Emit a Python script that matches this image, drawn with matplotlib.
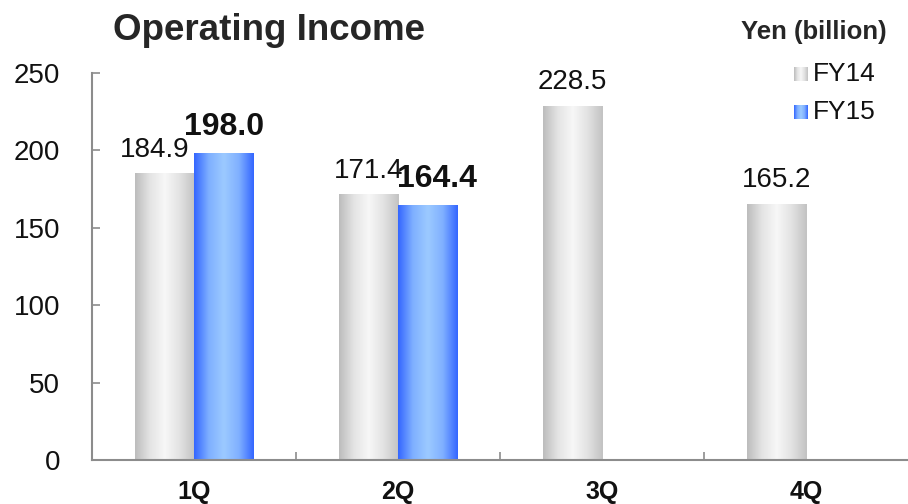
import matplotlib
matplotlib.use("Agg")
import matplotlib.pyplot as plt
import numpy as np
from matplotlib.colors import LinearSegmentedColormap

quarters = ["1Q", "2Q", "3Q", "4Q"]
fy14 = [184.9, 171.4, 228.5, 165.2]
fy15 = [198.0, 164.4, None, None]

plt.rcParams["font.family"] = ["Liberation Sans", "DejaVu Sans"]

GRAY = LinearSegmentedColormap.from_list(
    "g", ["#bcbcbc", "#e4e4e4", "#f7f7f7", "#e2e2e2", "#c2c2c2"])
BLUE = LinearSegmentedColormap.from_list(
    "b", ["#3366ff", "#7fb0ff", "#9ccaff", "#80b0ff", "#3366ff"])
SPINE = "#8c8c8c"
INK = "#111111"

fig = plt.figure(figsize=(9.08, 5.04), dpi=100)
ax = fig.add_axes([0.1013, 0.0873, 0.8987, 0.7679])

w = 0.29
grad = np.linspace(0, 1, 256).reshape(1, -1)
# label nudges in points (labels pushed apart where they would collide)
nudge14 = [-7, 0, 0, 0]
nudge15 = [0, 7, 0, 0]


def gbar(x0, h, cmap):
    ax.imshow(grad, cmap=cmap, aspect="auto", extent=(x0, x0 + w, 0, h),
              zorder=2, interpolation="bicubic")


x = np.arange(len(quarters)) + 0.5
for i, (a, b) in enumerate(zip(fy14, fy15)):
    gbar(x[i] - w, a, GRAY)
    ax.annotate(f"{a:.1f}", (x[i] - w / 2, a), xytext=(nudge14[i], 8),
                textcoords="offset points", ha="center", va="bottom",
                fontsize=20, color=INK)
    if b is not None:
        gbar(x[i], b, BLUE)
        ax.annotate(f"{b:.1f}", (x[i] + w / 2, b), xytext=(nudge15[i], 8),
                    textcoords="offset points", ha="center", va="bottom",
                    fontsize=23, fontweight="bold", color=INK)
ax.set_xlim(0, 4)
ax.set_ylim(0, 250)

ax.set_yticks(range(0, 251, 50))
ax.tick_params(axis="y", labelsize=20, direction="in", length=6,
               color=SPINE, width=1.2, pad=23, labelcolor=INK)
ax.set_xticks([1, 2, 3])
ax.set_xticklabels([])
ax.tick_params(axis="x", direction="in", length=6, color=SPINE, width=1.2)
for i, q in enumerate(quarters):
    ax.annotate(q, (x[i], 0), xycoords=("data", "figure pixels"),
                xytext=(0, 4.5), textcoords="offset pixels",
                ha="center", va="baseline", fontsize=18, fontweight="bold",
                color=INK, annotation_clip=False)

for s in ("top", "right"):
    ax.spines[s].set_visible(False)
for s in ("left", "bottom"):
    ax.spines[s].set_color(SPINE)
    ax.spines[s].set_linewidth(1.5)

fig.text(0.296, 0.94, "Operating Income", ha="center", va="center",
         fontsize=26.5, fontweight="bold", color="#262626")
fig.text(0.896, 0.937, "Yen (billion)", ha="center", va="center",
         fontsize=18.5, fontweight="bold", color="#262626")

# legend
for j, (lab, cmap) in enumerate([("FY14", GRAY), ("FY15", BLUE)]):
    yc = 1 - (74 + j * 38) / 504
    lax = fig.add_axes([794 / 908, yc - 7 / 504, 14 / 908, 14 / 504])
    lax.imshow(grad, cmap=cmap, aspect="auto")
    lax.axis("off")
    fig.text(813 / 908, yc, lab, ha="left", va="center", fontsize=19,
             color=INK)

fig.savefig("out.png", dpi=100)
